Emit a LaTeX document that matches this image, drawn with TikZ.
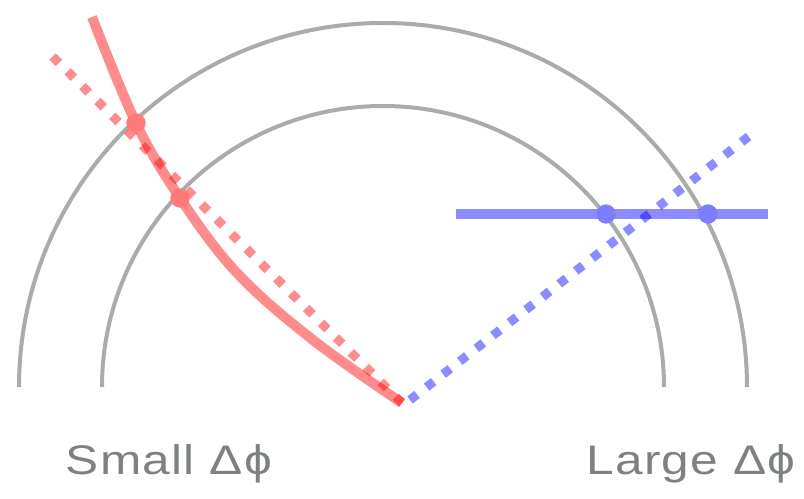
\documentclass[tikz,border=0pt]{standalone}
\usepackage{fontspec}
\setmainfont{Liberation Sans}
\newfontfamily\captionfont[FakeStretch=1.2, LetterSpace=3]{Liberation Sans}
\usepackage{tikz}
\definecolor{ringgray}{RGB}{168,172,170}
\definecolor{labelgray}{RGB}{125,130,128}
\definecolor{reddot}{RGB}{255,122,122}
\definecolor{bluedot}{RGB}{122,126,255}

\begin{document}
\begin{tikzpicture}[x=0.75pt, y=-0.75pt,
	ring/.style={ringgray, line width=3pt},
	track/.style={line width=7.5pt, opacity=0.45},
	straight/.style={line width=6.75pt, opacity=0.45, dash pattern=on 6.75pt off 9pt},
	hit/.style={circle, inner sep=0pt, minimum size=14.5pt},
	caption/.style={labelgray, font=\captionfont\fontsize{31}{37}\selectfont}]
	\useasboundingbox (0,0) rectangle (804,499);
	\coordinate (origin) at (402,403);
	% detector layers
	\draw[ring] (19,387) arc[start angle=180, end angle=360, radius=364];
	\draw[ring] (102,387) arc[start angle=180, end angle=360, radius=281];
	% low momentum track, strongly curved
	\draw[straight, red] (origin) -- (48,52);
	\draw[track, red, line cap=butt] plot[smooth, tension=0.6] coordinates {(92,17) (136,123) (180,198) (237,273) (313,340) (402,403)};
	\node[hit, fill=reddot] (r1) at (136,123) {};
	\node[hit, fill=reddot] (r2) at (180,198) {};
	% high momentum track
	\draw[straight, blue] (410,400) -- (757,130);
	\draw[track, blue] (456,214) -- (768,214);
	\node[hit, fill=bluedot] (b1) at (606,214) {};
	\node[hit, fill=bluedot] (b2) at (708,214) {};
	% labels
	\node[caption] (small) at (169,464) {Small Δϕ};
	\node[caption] (large) at (691,464) {Large Δϕ};
\end{tikzpicture}
\end{document}
